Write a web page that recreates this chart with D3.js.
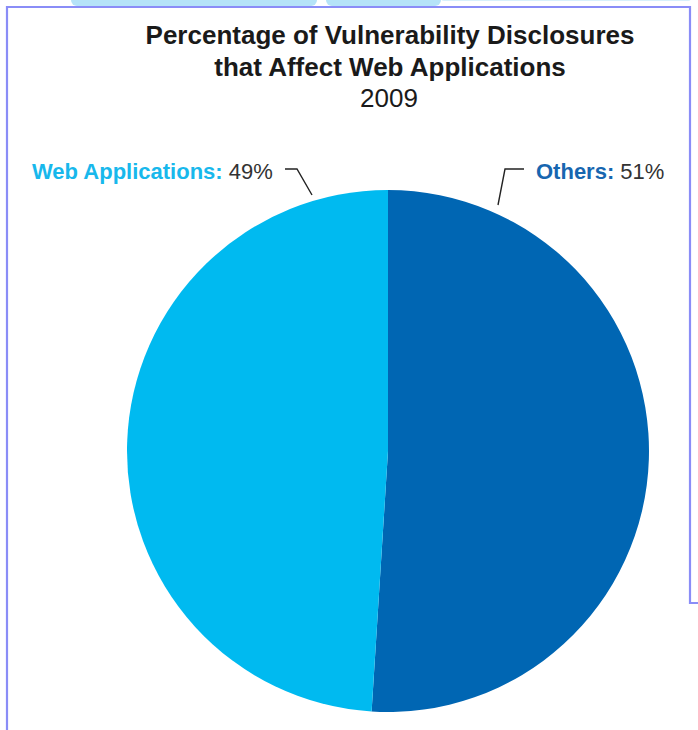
<!DOCTYPE html>
<html><head><meta charset="utf-8">
<script src="https://cdn.jsdelivr.net/npm/d3@7"></script>
<style>html,body{margin:0;padding:0;background:#fff;}svg{display:block;}</style>
</head><body>
<script>
const categories = ["Others", "Web Applications"];
const values = [51, 49];
const valueLabels = ["51%", "49%"];
const titleLines = ["Percentage of Vulnerability Disclosures", "that Affect Web Applications"];
const subtitle = "2009";

const W = 698, H = 730;
const colors = {"Others": "#0066b3", "Web Applications": "#00baf0"};
const labelColors = {"Others": "#1766b0", "Web Applications": "#18b8ec"};

const svg = d3.select("body").append("svg").attr("width", W).attr("height", H);

// frame decorations
svg.append("rect").attr("x", 71).attr("y", -6).attr("width", 246).attr("height", 12).attr("rx", 6).attr("fill", "#b5e3f8");
svg.append("rect").attr("x", 326).attr("y", -6).attr("width", 115).attr("height", 12).attr("rx", 6).attr("fill", "#b5e3f8");
svg.append("rect").attr("x", 441).attr("y", -6).attr("width", 250).attr("height", 7).attr("rx", 3).attr("fill", "#d7f0fb");
svg.append("path").attr("d", "M7,731 V7 H690 V603 H698").attr("fill", "none")
  .attr("stroke", "#8a8df7").attr("stroke-width", 2.2);

const font = "'Liberation Sans', Arial, Helvetica, sans-serif";
const cx = 388, cy = 451, r = 261;

const title = svg.append("g").attr("font-family", font).attr("text-anchor", "middle").attr("fill", "#1a1a1a");
title.selectAll("text.t").data(titleLines).join("text").attr("class", "t")
  .attr("x", 390).attr("y", (d, i) => 44 + i * 32)
  .attr("font-size", 26).attr("font-weight", "bold").text(d => d);
title.append("text").attr("x", 389).attr("y", 107).attr("font-size", 26).text(subtitle);

const pie = d3.pie().sort(null).value(d => d.v);
const arcs = pie(categories.map((c, i) => ({c, v: values[i], lab: valueLabels[i]})));
const arc = d3.arc().innerRadius(0).outerRadius(r);

svg.append("g").attr("transform", `translate(${cx},${cy})`)
  .selectAll("path").data(arcs).join("path")
  .attr("d", arc).attr("fill", d => colors[d.data.c]);

// leader lines
const leaders = {
  "Others": [[524,169],[505,169],[498,205]],
  "Web Applications": [[285,169],[297,169],[312,195]]
};
svg.append("g").selectAll("path").data(arcs).join("path")
  .attr("d", d => d3.line()(leaders[d.data.c]))
  .attr("fill", "none").attr("stroke", "#222").attr("stroke-width", 1.4);

// labels
const labelPos = {"Others": {x: 536, anchor: "start"}, "Web Applications": {x: 32, anchor: "start"}};
const lg = svg.append("g").attr("font-family", font).attr("font-size", 22);
arcs.forEach(d => {
  const t = lg.append("text").attr("x", labelPos[d.data.c].x).attr("y", 179);
  t.append("tspan").attr("font-weight", "bold").attr("fill", labelColors[d.data.c]).text(d.data.c + ":");
  t.append("tspan").attr("fill", "#333").text(" " + d.data.lab);
});
</script>
</body></html>
